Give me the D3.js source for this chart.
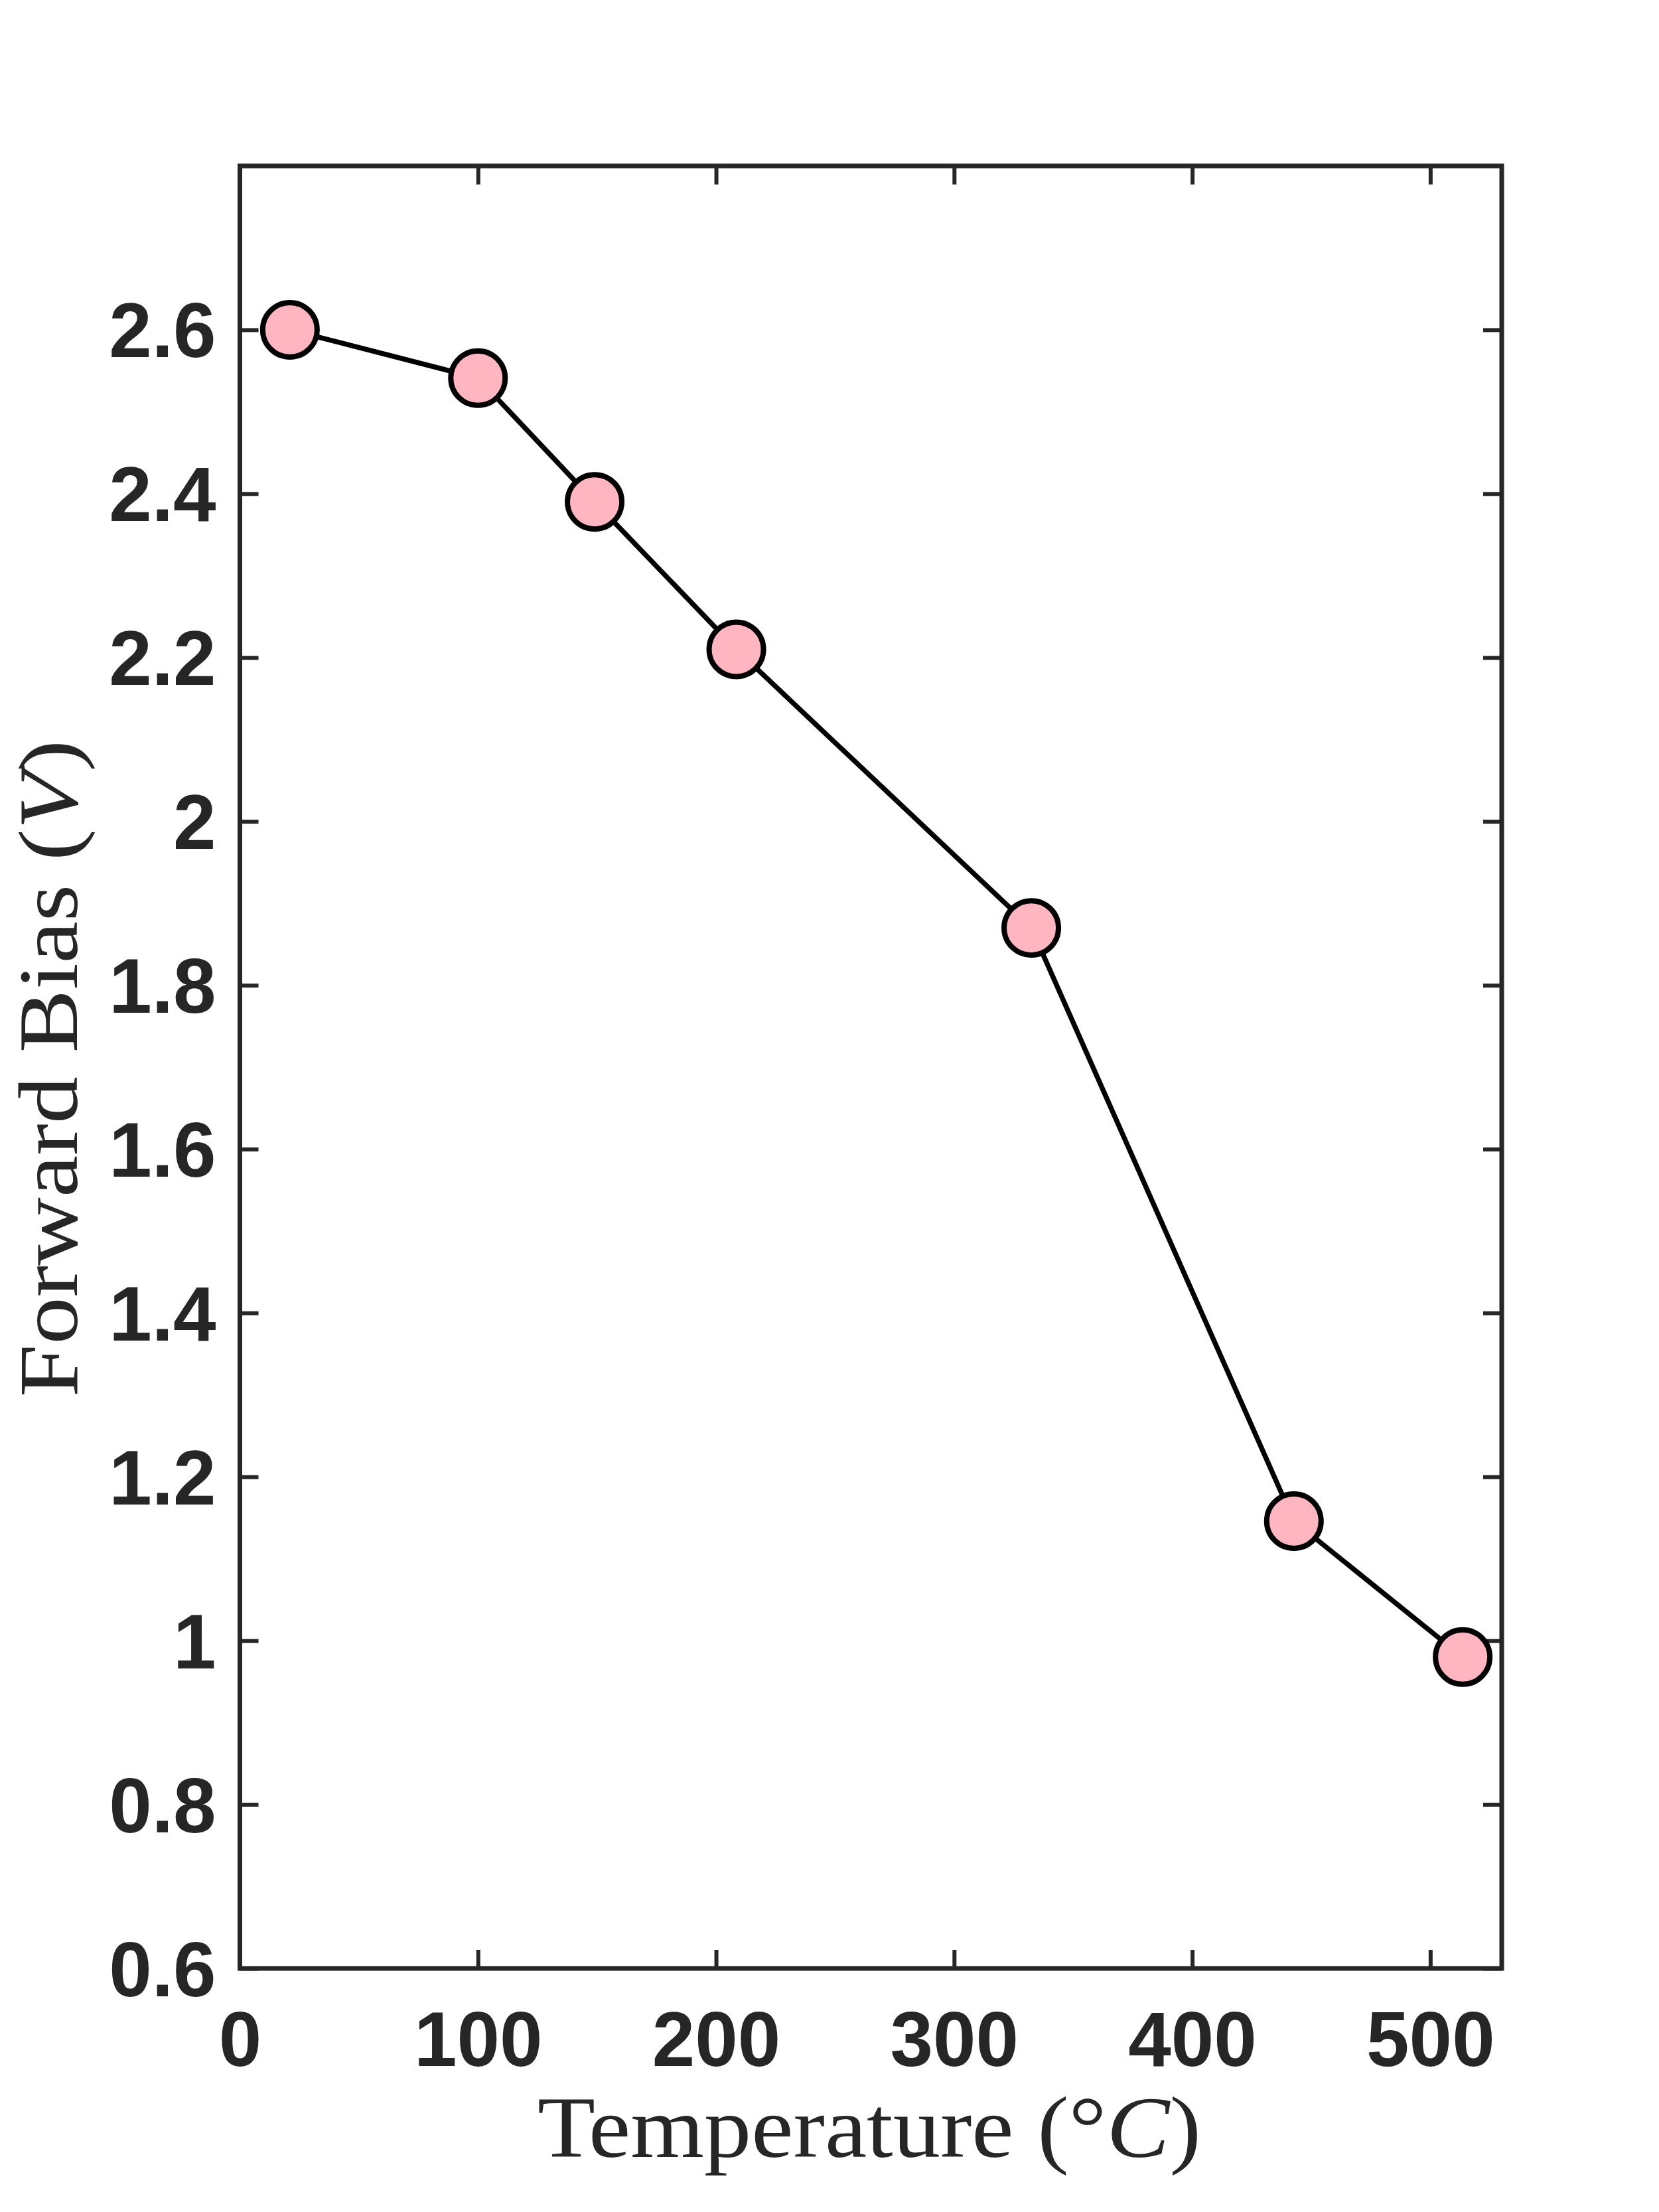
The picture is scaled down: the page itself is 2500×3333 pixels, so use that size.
<!DOCTYPE html>
<html>
<head>
<meta charset="utf-8">
<script src="https://cdn.jsdelivr.net/npm/d3@7"></script>
<style>
  html, body { margin: 0; padding: 0; background: #ffffff; }
  svg { display: block; }
</style>
</head>
<body>
<svg id="chart" width="2500" height="3333"></svg>
<script>
// ---- data ----
const temperature = [21, 100, 149, 208.5, 332.4, 442.7, 513.6];
const forwardBias = [2.60, 2.541, 2.39, 2.21, 1.870, 1.146, 0.98];
const xTicks = [0, 100, 200, 300, 400, 500];
const xTickLabels = ["0", "100", "200", "300", "400", "500"];
const yTicks = [0.6, 0.8, 1.0, 1.2, 1.4, 1.6, 1.8, 2.0, 2.2, 2.4, 2.6];
const yTickLabels = ["0.6", "0.8", "1", "1.2", "1.4", "1.6", "1.8", "2", "2.2", "2.4", "2.6"];
const xDomain = [0, 530];
const yDomain = [0.6, 2.8];
const xLabel = "Temperature (°C)";
const yLabel = "Forward Bias (V)";

(function () {
  // ---- layout ----
  const W = 2500, H = 3333;
  const pLeft = 361.5, pRight = 2263, pTop = 250, pBottom = 2966;
  const axisColor = "#262626";
  const tickLen = 28;
  const tickFont = "'Liberation Sans', Arial, Helvetica, sans-serif";
  const labelFont = "'Liberation Serif', 'Times New Roman', serif";

  const svg = d3.select("#chart");
  svg.append("rect").attr("width", W).attr("height", H).attr("fill", "#ffffff");

  const x = d3.scaleLinear().domain(xDomain).range([pLeft, pRight]);
  const y = d3.scaleLinear().domain(yDomain).range([pBottom, pTop]);

  function styleAxis(g) {
    g.select(".domain").remove();
    g.selectAll(".tick line").attr("stroke", axisColor).attr("stroke-width", 6);
  }

  // bottom axis
  const gx = svg.append("g").attr("transform", `translate(0,${pBottom})`)
    .call(d3.axisBottom(x).tickValues(xTicks).tickSize(-tickLen).tickSizeOuter(0)
      .tickFormat((d, i) => xTickLabels[i]));
  styleAxis(gx);
  gx.selectAll(".tick text")
    .attr("y", 147).attr("dy", null)
    .attr("font-family", tickFont).attr("font-weight", "bold")
    .attr("font-size", 116).attr("fill", axisColor);

  // top axis (mirrored ticks)
  const gxt = svg.append("g").attr("transform", `translate(0,${pTop})`)
    .call(d3.axisTop(x).tickValues(xTicks).tickSize(-tickLen).tickSizeOuter(0).tickFormat(""));
  styleAxis(gxt);

  // left axis
  const gy = svg.append("g").attr("transform", `translate(${pLeft},0)`)
    .call(d3.axisLeft(y).tickValues(yTicks).tickSize(-tickLen).tickSizeOuter(0)
      .tickFormat((d, i) => yTickLabels[i]));
  styleAxis(gy);
  gy.selectAll(".tick text")
    .attr("x", -36).attr("dy", null).attr("y", 41)
    .attr("text-anchor", "end")
    .attr("font-family", tickFont).attr("font-weight", "bold")
    .attr("font-size", 116).attr("fill", axisColor);

  // right axis (mirrored ticks)
  const gyr = svg.append("g").attr("transform", `translate(${pRight},0)`)
    .call(d3.axisRight(y).tickValues(yTicks).tickSize(-tickLen).tickSizeOuter(0).tickFormat(""));
  styleAxis(gyr);

  // box
  svg.append("rect")
    .attr("x", pLeft).attr("y", pTop)
    .attr("width", pRight - pLeft).attr("height", pBottom - pTop)
    .attr("fill", "none").attr("stroke", axisColor).attr("stroke-width", 7);

  // data line
  const pts = temperature.map((t, i) => [t, forwardBias[i]]);
  svg.append("path")
    .datum(pts)
    .attr("fill", "none").attr("stroke", "#000000").attr("stroke-width", 7.5)
    .attr("stroke-linejoin", "round")
    .attr("d", d3.line().x(d => x(d[0])).y(d => y(d[1])));

  // markers
  svg.append("g").selectAll("circle")
    .data(pts).join("circle")
    .attr("cx", d => x(d[0])).attr("cy", d => y(d[1]))
    .attr("r", 41)
    .attr("fill", "#FFB6C1").attr("stroke", "#000000").attr("stroke-width", 8);

  // x label
  const xl = svg.append("text")
    .attr("x", 1310).attr("y", 3250)
    .attr("text-anchor", "middle")
    .attr("font-family", labelFont).attr("font-size", 131)
    .attr("fill", axisColor)
    .attr("textLength", 1000).attr("lengthAdjust", "spacingAndGlyphs");
  xl.append("tspan").text("Temperature (°");
  xl.append("tspan").attr("font-style", "italic").text("C");
  xl.append("tspan").text(")");

  // y label
  const yl = svg.append("text")
    .attr("transform", "translate(116,1610) rotate(-90)")
    .attr("text-anchor", "middle")
    .attr("font-family", labelFont).attr("font-size", 128)
    .attr("fill", axisColor)
    .attr("textLength", 990).attr("lengthAdjust", "spacingAndGlyphs");
  yl.append("tspan").text("Forward Bias (");
  yl.append("tspan").attr("font-style", "italic").text("V");
  yl.append("tspan").text(")");
})();
</script>
</body>
</html>
